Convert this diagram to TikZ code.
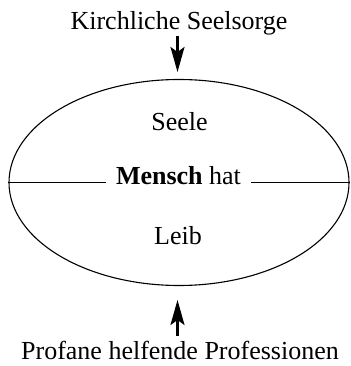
\documentclass[tikz,border=0pt]{standalone}
\usepackage{fontspec}
\setmainfont{Liberation Serif}
\usetikzlibrary{arrows.meta,shapes.geometric}
\begin{document}
\begin{tikzpicture}[x=1pt,y=1pt,
  lbl/.style={font=\fontsize{26}{30}\selectfont, inner sep=0pt, anchor=base},
  pointer/.style={line width=2.4pt, -{Stealth[length=25pt,width=14pt,inset=5pt]}},
  outline/.style={line width=1.1pt}]
\useasboundingbox (0,0) rectangle (350,366);
% the human being: soul above, body below
\node[draw, outline, ellipse, minimum width=340pt, minimum height=206pt, inner sep=0pt] (person) at (179,183.5) {};
\node[lbl] (church) at (179,336) {Kirchliche Seelsorge};
\node[lbl] (soul) at (179.5,235) {Seele};
\node[lbl, inner xsep=10pt] (mensch) at (178.5,181) {\textbf{Mensch} hat};
\node[lbl] (body) at (178,121) {Leib};
\node[lbl] (prof) at (180,6) {Profane helfende Professionen};
% dividing line, interrupted by the centre label
\draw[outline] (person.west) -- (person.west -| mensch.west);
\draw[outline] (person.east -| mensch.east) -- (person.east);
% arrows towards the ellipse
\coordinate (topTail) at (177.5,330);
\coordinate (topTip) at (177.5,294);
\coordinate (botTail) at (177.5,30);
\coordinate (botTip) at (177.5,66);
\draw[pointer] (topTail) -- (topTip);
\draw[pointer] (botTail) -- (botTip);
\end{tikzpicture}
\end{document}
